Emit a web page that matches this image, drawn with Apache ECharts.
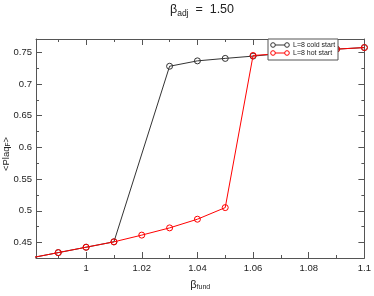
<!DOCTYPE html>
<html><head><meta charset="utf-8">
<script src="https://cdn.jsdelivr.net/npm/echarts@6/dist/echarts.min.js"></script>
<style>html,body{margin:0;padding:0;background:#fff}#c{width:374px;height:296px}</style>
</head><body><div id="c"></div>
<script>
const coldBeta = [0.98, 0.99, 1.00, 1.01, 1.03, 1.04, 1.05, 1.06, 1.07, 1.08, 1.09, 1.10];
const coldPlaq = [0.4255, 0.434, 0.4425, 0.451, 0.728, 0.7365, 0.7404, 0.744, 0.748, 0.752, 0.755, 0.7575];
const hotBeta = [0.98, 0.99, 1.00, 1.01, 1.02, 1.03, 1.04, 1.05, 1.06, 1.07, 1.08, 1.09, 1.10];
const hotPlaq = [0.4255, 0.434, 0.4425, 0.451, 0.4616, 0.473, 0.4867, 0.505, 0.745, 0.748, 0.752, 0.755, 0.7575];
const xMajor = [1, 1.02, 1.04, 1.06, 1.08, 1.1];
const xMinor = [0.99, 1.01, 1.03, 1.05, 1.07, 1.09];
const yMajor = [0.45, 0.5, 0.55, 0.6, 0.65, 0.7, 0.75];
const yMinor = [0.475, 0.525, 0.575, 0.625, 0.675, 0.725];
const seriesNames = ['L=8 cold start', 'L=8 hot start'];
const XMIN = 0.982, XMAX = 1.1, YMIN = 0.4255, YMAX = 0.771;

const FONT = 'Liberation Sans, Arial, sans-serif';
const AX = '#555';
function xAx(pos, ticks, len, labels, line) {
  return {type:'value', position:pos, min:XMIN, max:XMAX, splitLine:{show:false},
    axisLine:{show:line, onZero:false, lineStyle:{color:AX, width:1}},
    axisTick:{show:true, inside:true, length:len, customValues:ticks, lineStyle:{color:AX}},
    axisLabel: labels ? {show:true, customValues:ticks, color:'#222', fontSize:9.5, fontFamily:FONT, margin:5, formatter:v=>String(+v.toFixed(3))} : {show:false}};
}
function yAx(pos, ticks, len, labels, line) {
  return {type:'value', position:pos, min:YMIN, max:YMAX, splitLine:{show:false},
    axisLine:{show:line, onZero:false, lineStyle:{color:AX, width:1}},
    axisTick:{show:true, inside:true, length:len, customValues:ticks, lineStyle:{color:AX}},
    axisLabel: labels ? {show:true, customValues:ticks, color:'#222', fontSize:9.5, fontFamily:FONT, margin:4, formatter:v=>String(+v.toFixed(3))} : {show:false}};
}
const xAxes = [xAx('bottom', xMajor, 6, true, true), xAx('bottom', xMinor, 3, false, false), xAx('top', xMajor, 6, false, true), xAx('top', xMinor, 3, false, false)];
xAxes[0].name = '{b|β}{s|fund}';
xAxes[0].nameLocation = 'middle';
xAxes[0].nameGap = 20;
xAxes[0].nameTextStyle = {rich:{b:{fontSize:11, fontFamily:FONT, color:'#222'}, s:{fontSize:7, fontFamily:FONT, color:'#222', padding:[6,0,0,0]}}};
const yAxes = [yAx('left', yMajor, 6, true, true), yAx('left', yMinor, 3, false, false), yAx('right', yMajor, 6, false, true), yAx('right', yMinor, 3, false, false)];

function mk(i, xs, ys, color, z) {
  return {type:'line', name:seriesNames[i], xAxisIndex:0, yAxisIndex:0, data:xs.map((x,k)=>[x, ys[k]]),
    symbol:'circle', symbolSize:6, showSymbol:true, clip:true, z:z,
    lineStyle:{color:color, width:1}, itemStyle:{color:'rgba(0,0,0,0)', borderColor:color, borderWidth:1},
    emphasis:{disabled:true}, animation:false};
}

const LX = 268, LY = 39, LZ = 100;
const chart = echarts.init(document.getElementById('c'), null, {renderer:'canvas'});
chart.setOption({
  animation:false,
  backgroundColor:'#fff',
  grid:{left:36, right:8, top:39, bottom:27, containLabel:false},
  graphic:[
    {type:'text', x:202, y:10, z:LZ,
      style:{text:'{b|β}{s|adj}{b|  =  1.50}', textAlign:'center', verticalAlign:'middle',
        rich:{b:{fontSize:12.5, fontFamily:FONT, fill:'#222'}, s:{fontSize:8.5, fontFamily:FONT, fill:'#222', padding:[7,0,0,0]}}}},
    {type:'text', x:6, y:154, rotation:Math.PI/2, z:LZ,
      style:{text:'{a|<Plaq}{s|F}{a|>}', textAlign:'center', verticalAlign:'middle',
        rich:{a:{fontSize:9.5, fontFamily:FONT, fill:'#222'}, s:{fontSize:6.5, fontFamily:FONT, fill:'#222', padding:[5,0,0,0]}}}},
    {type:'rect', x:LX, y:LY, z:LZ, shape:{x:0, y:0, width:70, height:21}, style:{fill:'#fff', stroke:'#555', lineWidth:1}},
    {type:'line', x:LX, y:LY, z:LZ+1, shape:{x1:5, y1:6, x2:19, y2:6}, style:{stroke:'#333', lineWidth:1}},
    {type:'circle', x:LX, y:LY, z:LZ+2, shape:{cx:5, cy:6, r:2.3}, style:{fill:'#fff', stroke:'#333'}},
    {type:'circle', x:LX, y:LY, z:LZ+2, shape:{cx:19, cy:6, r:2.3}, style:{fill:'#fff', stroke:'#333'}},
    {type:'text', x:LX+25, y:LY+6, z:LZ+1, style:{text:seriesNames[0], font:'7px '+FONT, fill:'#222', verticalAlign:'middle'}},
    {type:'line', x:LX, y:LY, z:LZ+1, shape:{x1:5, y1:14, x2:19, y2:14}, style:{stroke:'#ff0000', lineWidth:1}},
    {type:'circle', x:LX, y:LY, z:LZ+2, shape:{cx:5, cy:14, r:2.3}, style:{fill:'#fff', stroke:'#ff0000'}},
    {type:'circle', x:LX, y:LY, z:LZ+2, shape:{cx:19, cy:14, r:2.3}, style:{fill:'#fff', stroke:'#ff0000'}},
    {type:'text', x:LX+25, y:LY+14, z:LZ+1, style:{text:seriesNames[1], font:'7px '+FONT, fill:'#222', verticalAlign:'middle'}}
  ],
  xAxis: xAxes,
  yAxis: yAxes,
  series:[mk(0, coldBeta, coldPlaq, '#333', 2), mk(1, hotBeta, hotPlaq, '#ff0000', 3)]
});
</script></body></html>
